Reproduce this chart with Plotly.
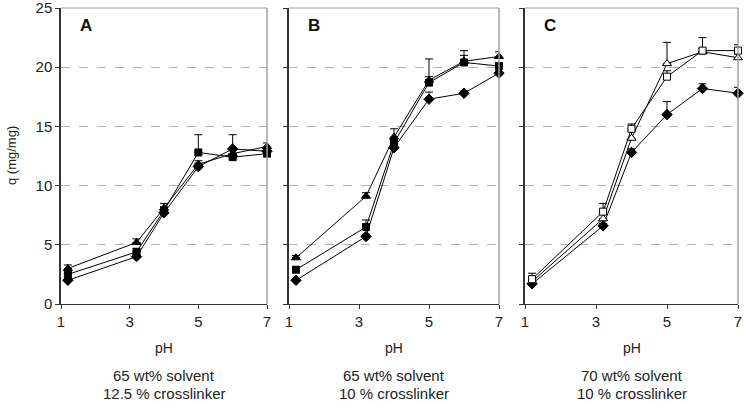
import plotly.graph_objects as go

ph = [1.2, 3.2, 4, 5, 6, 7]

a_diamond = [2.0, 4.0, 7.7, 11.6, 13.1, 12.9]
a_diamond_err = [0.2, 0.2, 0.3, 0.3, 1.2, 0.3]
a_square = [2.5, 4.4, 7.9, 12.8, 12.4, 12.7]
a_square_err = [0.3, 0.3, 0.3, 1.5, 0.3, 0.3]
a_triangle = [3.0, 5.2, 8.1, 11.8, 12.7, 13.3]
a_triangle_err = [0.3, 0.3, 0.4, 0.3, 0.3, 0.3]

b_diamond = [2.0, 5.7, 13.2, 17.3, 17.8, 19.5]
b_diamond_err = [0.1, 0.2, 0.3, 0.6, 0.2, 0.2]
b_square = [2.9, 6.5, 13.6, 18.7, 20.4, 20.1]
b_square_err = [0.1, 0.6, 0.3, 2.0, 1.0, 0.3]
b_triangle = [3.9, 9.1, 14.1, 18.9, 20.5, 20.9]
b_triangle_err = [0.2, 0.3, 0.7, 0.3, 0.5, 0.4]

c_diamond = [1.7, 6.6, 12.8, 16.0, 18.2, 17.8]
c_diamond_err = [0.2, 0.2, 0.3, 1.1, 0.4, 0.5]
c_square = [2.1, 7.8, 14.8, 19.2, 21.4, 21.4]
c_square_err = [0.5, 0.7, 0.4, 0.5, 1.1, 0.5]
c_triangle = [1.9, 7.2, 14.0, 20.3, 21.3, 20.8]
c_triangle_err = [0.3, 0.4, 0.6, 1.8, 0.3, 0.3]

panel_letters = ["A", "B", "C"]
subtitles = [["65 wt% solvent", "12.5 % crosslinker"],
             ["65 wt% solvent", "10 % crosslinker"],
             ["70 wt% solvent", "10 % crosslinker"]]
x_ticks = [1, 3, 5, 7]
y_ticks = [0, 5, 10, 15, 20, 25]

W, H = 745, 403
px_domains = [(61, 267), (289, 499), (525, 738)]
y_dom = [(H - 304) / H, (H - 8) / H]

FONT = "Liberation Sans, Arial, sans-serif"

fig = go.Figure()

panels = [
    [(a_diamond, a_diamond_err, "diamond", "black", 8),
     (a_square, a_square_err, "square", "black", 7),
     (a_triangle, a_triangle_err, "triangle-up", "black", 8)],
    [(b_diamond, b_diamond_err, "diamond", "black", 8),
     (b_square, b_square_err, "square", "black", 7),
     (b_triangle, b_triangle_err, "triangle-up", "black", 8)],
    [(c_diamond, c_diamond_err, "diamond", "black", 8),
     (c_triangle, c_triangle_err, "triangle-up", "white", 8),
     (c_square, c_square_err, "square", "white", 7)],
]

for i, series in enumerate(panels):
    xa = "x" if i == 0 else f"x{i+1}"
    ya = "y" if i == 0 else f"y{i+1}"
    for vals, err, sym, fill, size in series:
        fig.add_trace(go.Scatter(
            x=ph, y=vals, xaxis=xa, yaxis=ya, mode="lines+markers",
            line=dict(color="black", width=1),
            marker=dict(symbol=sym, size=size, color=fill,
                        line=dict(color="black", width=1)),
            error_y=dict(type="data", symmetric=False, array=err,
                         arrayminus=[0] * len(err), color="black",
                         thickness=1, width=4),
            cliponaxis=False, showlegend=False, hoverinfo="skip"))

layout = dict(
    width=W, height=H, margin=dict(l=0, r=0, t=0, b=0, autoexpand=False),
    paper_bgcolor="white", plot_bgcolor="white",
    font=dict(family=FONT, size=14, color="#222"),
    showlegend=False,
)

annotations = []
shapes = []
for i, (x0, x1) in enumerate(px_domains):
    suf = "" if i == 0 else str(i + 1)
    layout[f"xaxis{suf}"] = dict(
        domain=[x0 / W, x1 / W], range=[1, 7], tickvals=x_ticks,
        ticks="outside", ticklen=4, tickcolor="#333", showline=True,
        linecolor="#333", linewidth=1, showgrid=False, zeroline=False,
        automargin=False, ticklabeloverflow="allow",
        anchor=f"y{suf}", tickfont=dict(size=15, color="#222"))
    layout[f"yaxis{suf}"] = dict(
        domain=y_dom, range=[0, 25], tickvals=y_ticks,
        showticklabels=(i == 0), ticks="outside", ticklen=4,
        tickcolor="#333", showline=True, linecolor="#333", linewidth=1.5,
        showgrid=True, gridcolor="#b0b0b0", griddash="dash", gridwidth=1,
        zeroline=False, automargin=False, ticklabeloverflow="allow",
        anchor=f"x{suf}", tickfont=dict(size=15, color="#222"))
    xd = f"x{suf} domain"
    yd = f"y{suf} domain"
    shapes.append(dict(type="line", xref=xd, yref=yd, x0=0, x1=1, y0=1, y1=1,
                       line=dict(color="#a0a0a0", width=1)))
    shapes.append(dict(type="line", xref=xd, yref=yd, x0=1, x1=1, y0=0, y1=1,
                       line=dict(color="#a0a0a0", width=1.5)))
    annotations.append(dict(text=f"<b>{panel_letters[i]}</b>", xref="paper", yref="paper",
                            x=(x0 + 17) / W, y=(H - 25) / H, showarrow=False,
                            xanchor="left", yanchor="middle",
                            font=dict(size=17, color="#111")))
    cx = (x0 + x1) / 2 / W
    annotations.append(dict(text="pH", xref="paper", yref="paper", x=cx,
                            y=(H - 348) / H, showarrow=False,
                            xanchor="center", yanchor="middle",
                            font=dict(size=14, color="#222")))
    annotations.append(dict(text=subtitles[i][0], xref="paper", yref="paper", x=cx,
                            y=(H - 375) / H, showarrow=False,
                            xanchor="center", yanchor="middle",
                            font=dict(size=15, color="#222")))
    annotations.append(dict(text=subtitles[i][1], xref="paper", yref="paper", x=cx,
                            y=(H - 393) / H, showarrow=False,
                            xanchor="center", yanchor="middle",
                            font=dict(size=15, color="#222")))

annotations.append(dict(text="q (mg/mg)", xref="paper", yref="paper",
                        x=11 / W, y=(H - 156) / H, showarrow=False, textangle=-90,
                        xanchor="center", yanchor="middle",
                        font=dict(size=13, color="#222")))

layout["annotations"] = annotations
layout["shapes"] = shapes
fig.update_layout(**layout)

fig.write_html(
    "out.html",
    config={"displayModeBar": False},
    post_script="document.body.style.margin='0';document.body.style.overflow='hidden';",
)
